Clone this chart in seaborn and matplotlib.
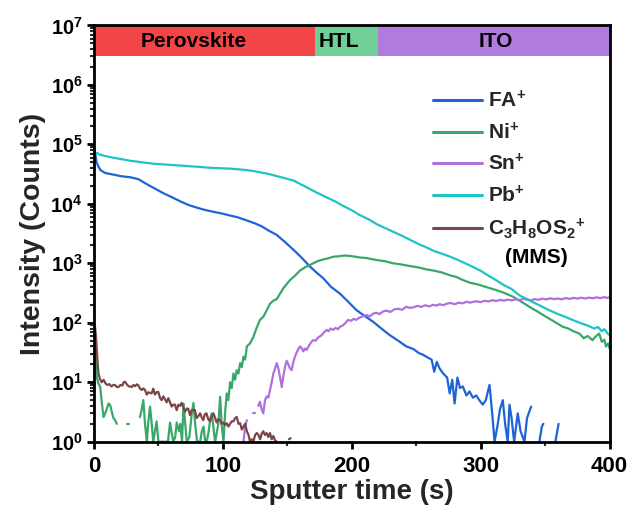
import numpy as np
import pandas as pd
import matplotlib
matplotlib.use("Agg")
import matplotlib.pyplot as plt
import seaborn as sns
from matplotlib.ticker import LogLocator, MultipleLocator, NullFormatter

# ---------------- depth-profile data (counts; 0 = no counts recorded) ----------------
fa_time = [0, 1, 2, 3.5, 5, 8.7, 15, 21.5, 28, 34.4, 40, 47.4, 54, 60.2, 67, 73.1, 80, 86, 92,
           98.9, 105, 111.8, 118, 124.8, 130, 135, 141.8, 148, 154.6, 161, 167.6, 172, 177.9,
           184, 190.8, 196, 203.7, 210, 216.6, 223, 229.5, 236, 242.4, 248, 252, 255.3, 259,
           262, 264, 266, 268.2, 271, 274, 276, 278, 279.8, 282, 284, 286.2, 289, 291.4, 294,
           296.6, 299, 301.7, 304, 306.9, 309, 310.8, 313, 315, 317.2, 319, 321, 322.4, 324,
           326, 328.8, 331, 334, 336, 339.2, 341, 345.6, 347.5, 348.7, 350, 358, 360.5, 362]
fa_counts = [9.5e4, 7e4, 5e4, 4.2e4, 3.7e4, 3.3e4, 3.1e4, 2.9e4, 2.8e4, 2.6e4, 2.2e4, 1.8e4,
             1.5e4, 1.3e4, 1.1e4, 9.6e3, 8.6e3, 7.9e3, 7.4e3, 6.9e3, 6.4e3, 5.9e3, 5.3e3, 4.7e3,
             4.2e3, 3.6e3, 3.0e3, 2.3e3, 1.7e3, 1.25e3, 880, 720, 560, 400, 310, 240, 163, 130,
             104, 80, 62, 50, 40, 36, 31, 29, 26, 24, 15, 22, 17, 14, 12, 6.5, 11, 4.4, 12, 8,
             8.5, 6, 7, 5.5, 6, 5, 4.2, 5, 9, 3, 1, 1.8, 3.5, 5, 2, 1, 4.2, 2.5, 1, 3, 1.5, 1,
             2.5, 3.9, 0, 1, 1.8, 2, 0, 1, 2, 0]

ni_time = [0, 1, 2.2, 3.5, 4.8, 6.1, 7.4, 8.7, 10, 11.3, 12.6, 13.8, 15.1, 16.4, 17.7, 19,
           24.5, 25.5, 27, 28.5, 34.5, 35.7, 37, 38.3, 39.6, 41, 42.2, 43.5, 44.8, 46, 47.3,
           48.6, 50, 52, 55, 57.4, 59, 60.3, 61.6, 63, 64.2, 66, 67, 68.3, 69.5, 70.8, 72, 74,
           75.9, 77.2, 78.5, 80, 82.4, 83.7, 85, 86.3, 87.5, 89, 90.3, 91.5, 93, 94, 96.5,
           97.9, 99, 100.5, 101.7, 103, 104.3, 105.6, 106.9, 108.2, 109.5, 110.8, 112.1, 113.4,
           114.7, 116, 117.3, 118.6, 121.1, 123.7, 126, 128.8, 131.4, 133.9, 136.6, 139.2,
           141.8, 146.9, 152, 156, 160, 164, 168, 172.8, 177, 181, 185.6, 190, 194, 198.5, 202,
           206.3, 211, 216, 221, 226, 232, 238, 245, 252, 258, 264, 270, 276, 281, 286, 292,
           298, 304, 312, 318, 325, 331, 337.8, 344, 350.8, 357, 363.6, 368, 372, 376.6, 380,
           383, 386.8, 389, 392, 394, 396, 397.2, 399, 400]
ni_counts = [45, 30, 12, 9.5, 8.4, 4.5, 2.6, 3.0, 3.6, 4.4, 4.1, 3.2, 2.5, 2.3, 2.0, 0,
             0, 2, 2, 0, 0, 2.6, 3.5, 5, 2, 1, 2.2, 3.9, 2, 1, 1.5, 2.2, 1, 1, 1, 1, 2.1, 1.4,
             1, 1.2, 2.1, 1.5, 2, 1, 4.4, 2, 1, 1.2, 3, 4.5, 2, 1, 1, 1.5, 1.8, 1, 1, 1.5, 2.5,
             3, 1.5, 1, 2, 5.7, 2, 1, 3, 6.5, 5, 10, 8, 14, 11, 16, 14, 21, 18, 27, 24, 40, 45,
             58, 80, 112, 126, 160, 210, 235, 250, 380, 520, 620, 760, 860, 950, 1070, 1150,
             1200, 1290, 1310, 1350, 1330, 1300, 1250, 1230, 1170, 1120, 1080, 1000, 960, 900,
             850, 790, 750, 700, 630, 590, 525, 470, 440, 400, 355, 320, 275, 230, 186, 155,
             126, 105, 86, 80, 72, 66, 55, 60, 51, 58, 66, 48, 52, 40, 45, 37]

sn_time = [116, 117.3, 118.6, 119.5, 123, 123.7, 124.9, 126, 127.5, 128.8, 130.1, 131.4, 132.7,
           134, 135.3, 136.6, 137.9, 139.2, 140.5, 141.8, 143.1, 144.4, 145.7, 147, 148.2,
           149.5, 150.8, 152.1, 153.4, 154.7, 156, 157.3, 158.6, 159.8, 161, 162.4, 163.7, 165,
           167, 168.8, 170.1, 172, 173.6, 175.3, 177, 178.7, 180.5, 182, 183.5, 185.6, 187.5,
           189.2, 190.8, 193, 195, 197.2, 199.5, 201.5, 203.5, 206, 208.5, 211.5, 214, 216.5,
           219, 221.5, 224.3, 227, 230, 233, 236, 239, 242.4, 245, 248, 251, 254, 257, 260, 263,
           266, 268, 271, 274, 277, 280, 283, 286, 289, 292, 294, 297, 300, 303, 306, 309, 312,
           315, 318, 321, 324, 327, 330, 333, 336, 339, 342, 345, 348, 351, 354, 357, 360, 363,
           366, 369, 372, 375, 378, 381, 384, 387, 390, 393, 396, 398, 400]
sn_counts = [1, 1.8, 2.3, 0, 0, 3.0, 3.0, 0, 4, 4.7, 3.5, 3.0, 5, 5.8, 5.5, 7.4, 10, 14, 17, 21,
             17, 12, 8.3, 13, 18, 23, 20, 17, 16, 22, 27, 32, 36, 40, 38, 33, 37, 35, 42, 48,
             51, 50, 56, 59, 63, 70, 76, 72, 80, 76, 82, 78, 85, 90, 98, 112, 108, 116, 112,
             122, 128, 135, 128, 142, 148, 140, 155, 160, 152, 168, 172, 165, 186, 178, 182,
             192, 185, 197, 188, 200, 195, 205, 198, 210, 215, 205, 218, 212, 225, 218, 225,
             230, 222, 235, 228, 240, 232, 242, 236, 245, 238, 248, 240, 252, 245, 238, 250,
             244, 255, 247, 258, 250, 256, 248, 260, 252, 262, 255, 264, 256, 265, 258, 267,
             260, 270, 262, 268]

pb_time = [0, 1, 2, 4, 7, 11, 16, 22, 28, 34, 40, 47, 54, 60, 67, 73, 80, 86, 93, 100, 106,
           112, 118, 124, 130, 135, 141, 148, 155, 161, 168, 174, 180, 187, 193, 200, 206, 213,
           219, 226, 232, 239, 245, 252, 258, 264, 270, 276, 282, 288, 294, 300, 306, 312, 318,
           324, 330, 336, 342, 348, 354, 360, 366, 372, 378, 384, 388, 391, 394, 396, 398, 400]
pb_counts = [8.5e4, 7e4, 7.2e4, 6.8e4, 6.5e4, 6.2e4, 5.9e4, 5.6e4, 5.3e4, 5.1e4, 4.9e4,
             4.7e4, 4.6e4, 4.5e4, 4.4e4, 4.3e4, 4.2e4, 4.1e4, 4.0e4, 3.95e4, 3.9e4, 3.8e4,
             3.7e4, 3.55e4, 3.35e4, 3.2e4, 2.95e4, 2.7e4, 2.45e4, 2.1e4, 1.75e4, 1.5e4, 1.3e4,
             1.1e4, 9.3e3, 7.8e3, 6.5e3, 5.5e3, 4.6e3, 3.9e3, 3.4e3, 2.9e3, 2.5e3, 2.1e3,
             1.85e3, 1.6e3, 1.45e3, 1.3e3, 1.15e3, 1.0e3, 870, 750, 620, 520, 430, 370, 290,
             250, 215, 185, 160, 140, 125, 110, 98, 88, 80, 85, 72, 78, 68, 62]

mms_time = [0, 0.8, 1.5, 2.2, 2.9, 3.5, 4.5, 6, 7.5, 9, 10.5, 12, 13.5, 15, 16.4, 17.7, 19,
            20.5, 22, 23, 24.1, 25.5, 27, 28.2, 29.3, 30.6, 32, 33.2, 34.4, 35.8, 37, 38.3,
            39.6, 41, 42.2, 43.5, 44.7, 46, 47.3, 48.6, 49.9, 51.2, 52.5, 53.8, 55, 56.4, 57.7,
            59, 60.3, 61.6, 62.8, 64.2, 65.5, 66.8, 68, 69.3, 70.6, 72, 73.1, 74.5, 75.8, 77,
            78.3, 79.6, 81, 82.4, 83.5, 84.8, 86, 87.3, 88.6, 90, 91.3, 92.7, 94, 95.2, 96.5,
            97.9, 99.2, 100.5, 101.7, 103, 104.3, 105.6, 106.9, 108.2, 109.5, 110.8, 112.1,
            113.4, 114.7, 116, 117.3, 118.6, 119.9, 121.1, 122.4, 123.7, 125, 126.3, 127.6,
            128.9, 130.1, 131.4, 132.7, 134, 135.3, 136.6, 137.9, 139.2, 140.5, 141.8, 142.5,
            151.3, 152.6, 153]
mms_counts = [90, 86, 60, 35, 20, 14, 11.5, 10, 11, 9.5, 9, 9.3, 8.5, 9, 9, 8.3, 8.3, 9, 8.8,
              10, 10.2, 9.2, 8.5, 8.5, 8.3, 9, 8.6, 9.2, 8.9, 7.8, 7.4, 7.9, 7.4, 6.2, 6.8, 6.6,
              6.5, 7.8, 6.2, 6.8, 6.9, 5.5, 5.0, 5.8, 5.2, 4.6, 5.4, 4.6, 3.9, 4.2, 4.2, 3.4,
              4.2, 4.0, 4.5, 3.8, 3.2, 3.6, 3.6, 2.8, 3.4, 3.4, 3.4, 2.5, 2.7, 3.0, 2.6, 2.3,
              2.9, 3.0, 2.4, 2.2, 2.6, 3.0, 2.5, 2.1, 2.4, 2.3, 2.0, 2.1, 1.9, 2.05, 1.8, 2.0,
              2.2, 2.2, 2.5, 2.6, 2.0, 2.05, 1.6, 1.8, 2.0, 1.5, 1.3, 1, 1.1, 1, 1.3, 1.4, 1.3,
              1.1, 1.35, 1.5, 1.3, 1.4, 1.2, 1.4, 1.1, 1.25, 1.05, 1, 0, 1.1, 1.15, 0]

ion_labels = [r"$\mathdefault{FA^{+}}$", r"$\mathdefault{Ni^{+}}$", r"$\mathdefault{Sn^{+}}$",
              r"$\mathdefault{Pb^{+}}$", r"$\mathdefault{C_3H_8OS_2{}^{+}}$"]
ion_note = "(MMS)"
ion_colors = ["#1f64d6", "#3aa76a", "#b070dc", "#1cc4c4", "#7a4646"]

# layer bands across the top of the profile
layer_names = ["Perovskite", "HTL", "ITO"]
layer_edges = [0, 171.4, 220.2, 400]
layer_colors = ["#f24646", "#6fcf97", "#b07ade"]

# ---------------- assemble long-form table, split at zero-count gaps ----------------
frames = []
for label, t, c in zip(ion_labels,
                       [fa_time, ni_time, sn_time, pb_time, mms_time],
                       [fa_counts, ni_counts, sn_counts, pb_counts, mms_counts]):
    t = np.asarray(t, float)
    c = np.asarray(c, float)
    gap = c <= 0
    seg = np.cumsum(gap)
    df = pd.DataFrame({"time": t, "counts": c, "ion": label, "seg": seg})[~gap]
    df["run"] = df["ion"] + "_" + df["seg"].astype(str)
    frames.append(df)
data = pd.concat(frames, ignore_index=True)

# ---------------- figure ----------------
sns.set_theme(style="ticks")
plt.rcParams["font.family"] = ["Liberation Sans", "DejaVu Sans"]
plt.rcParams["font.weight"] = "bold"
plt.rcParams["axes.labelweight"] = "bold"

fig = plt.figure(figsize=(6.32, 5.17), dpi=100)
ax = fig.add_axes([0.1487, 0.1456, 0.8157, 0.8053])

sns.lineplot(data=data, x="time", y="counts", hue="ion", hue_order=ion_labels,
             palette=ion_colors, units="run", estimator=None, sort=False,
             linewidth=1.6, ax=ax)

ax.set_yscale("log")
ax.set_xlim(0, 400)
ax.set_ylim(1, 1e7)

band_bottom = 3.0e6
for name, x0, x1, col in zip(layer_names, layer_edges[:-1], layer_edges[1:], layer_colors):
    ax.fill_between([x0, x1], band_bottom, 1e7, color=col, lw=0, zorder=1)
label_x = [77, 190, 312]
for name, xc in zip(layer_names, label_x):
    ax.text(xc, 5.3e6, name, ha="center", va="center", fontsize=15,
            fontweight="bold", color="black", zorder=3)

ax.xaxis.set_major_locator(MultipleLocator(100))
ax.xaxis.set_minor_locator(MultipleLocator(50))
ax.yaxis.set_major_locator(LogLocator(base=10, numticks=20))
ax.yaxis.set_minor_locator(LogLocator(base=10, subs=np.arange(2, 10), numticks=100))
ax.yaxis.set_minor_formatter(NullFormatter())

for s in ax.spines.values():
    s.set_linewidth(2.0)
    s.set_color("black")
    s.set_zorder(5)
ax.tick_params(which="major", direction="out", length=5, width=2.0, pad=4,
               colors="black", left=True, bottom=True)
ax.tick_params(which="minor", direction="out", length=3, width=1.5, left=True, bottom=True)
ax.tick_params(axis="x", which="major", labelsize=16, pad=5)
ax.tick_params(axis="y", which="major", labelsize=14.5, pad=3)
for lab in ax.get_xticklabels() + ax.get_yticklabels():
    lab.set_fontweight("bold")

ax.set_xlabel("Sputter time (s)", fontsize=20, fontweight="bold", labelpad=2)
ax.set_ylabel("Intensity (Counts)", fontsize=20.5, fontweight="bold", labelpad=3)

sns.move_legend(ax, "upper left", bbox_to_anchor=(0.621, 0.89), frameon=False, title=None,
                handlelength=2.35, handletextpad=0.3, labelspacing=0.5,
                prop={"family": "Liberation Sans", "weight": "bold", "size": 15})
leg = ax.get_legend()
for line in leg.get_lines():
    line.set_linewidth(2.2)

# second line of the last legend entry, centred under its label
fig.canvas.draw()
last = leg.get_texts()[-1].get_window_extent()
xc_px = 0.5 * (last.x0 + last.x1)
x_fig, y_fig = fig.transFigure.inverted().transform((xc_px, last.y0 - 7))
fig.text(x_fig, y_fig, ion_note, ha="center", va="top", fontsize=15, fontweight="bold",
         color="black")

fig.savefig("out.png", dpi=100)
